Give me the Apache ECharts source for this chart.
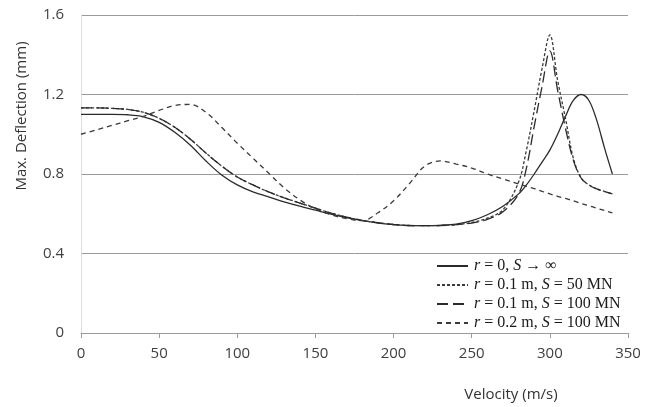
<!DOCTYPE html>
<html>
<head>
<meta charset="utf-8">
<script src="https://cdn.jsdelivr.net/npm/echarts@6/dist/echarts.min.js"></script>
<style>
  html, body { margin: 0; padding: 0; background: #fff; }
  #chart { width: 645px; height: 407px; }
</style>
</head>
<body>
<div id="chart"></div>
<script>
// velocity samples (m/s)
const velocity = [0, 10, 20, 30, 40, 50, 60, 70, 80, 90, 100, 110, 120, 130, 140, 150, 160, 170, 180, 190,
  200, 210, 220, 230, 240, 250, 260, 270, 280, 285, 290, 295, 300, 305, 310, 315, 320, 325, 330, 335, 340]

// max deflection (mm)
const rigid = [1.10, 1.10, 1.10, 1.098, 1.088, 1.06, 1.01, 0.945, 0.865, 0.795, 0.745, 0.71, 0.685, 0.66, 0.638, 0.618, 0.598, 0.58, 0.565, 0.553,
  0.545, 0.54, 0.54, 0.542, 0.548, 0.565, 0.595, 0.638, 0.70, 0.745, 0.80, 0.86, 0.92, 1.00, 1.09, 1.17, 1.20, 1.17, 1.07, 0.93, 0.80]
const r01s50 = [1.133, 1.133, 1.13, 1.125, 1.11, 1.08, 1.035, 0.975, 0.905, 0.84, 0.785, 0.745, 0.71, 0.68, 0.654, 0.628, 0.603, 0.583, 0.567, 0.555,
  0.546, 0.541, 0.54, 0.541, 0.545, 0.556, 0.578, 0.62, 0.76, 0.92, 1.12, 1.33, 1.50, 1.27, 1.08, 0.88, 0.78, 0.745, 0.725, 0.712, 0.70]
const r01s100 = [1.133, 1.133, 1.13, 1.125, 1.11, 1.08, 1.035, 0.975, 0.905, 0.84, 0.785, 0.745, 0.71, 0.68, 0.654, 0.628, 0.603, 0.583, 0.567, 0.555,
  0.546, 0.541, 0.54, 0.541, 0.545, 0.553, 0.572, 0.61, 0.70, 0.83, 1.04, 1.24, 1.42, 1.22, 1.03, 0.87, 0.78, 0.745, 0.725, 0.712, 0.70]
const r02s100 = [1.00, 1.022, 1.045, 1.068, 1.09, 1.12, 1.145, 1.15, 1.11, 1.035, 0.955, 0.88, 0.805, 0.73, 0.67, 0.625, 0.595, 0.575, 0.565, 0.605,
  0.665, 0.75, 0.84, 0.866, 0.85, 0.83, 0.80, 0.775, 0.75, 0.738, 0.727, 0.713, 0.70, 0.688, 0.677, 0.665, 0.652, 0.64, 0.628, 0.616, 0.604]

const xTicks = { min: 0, max: 350, interval: 50 }
const yTicks = { min: 0, max: 1.6, interval: 0.4 }

const legendRich = {
  '0': '{i|r} = 0, {i|S} → ∞',
  '1': '{i|r} = 0.1 m, {i|S} = 50 MN',
  '2': '{i|r} = 0.1 m, {i|S} = 100 MN',
  '3': '{i|r} = 0.2 m, {i|S} = 100 MN',
}

const pairs = (ys) => velocity.map((v, i) => [v, ys[i]])

const chart = echarts.init(document.getElementById('chart'))

const mkSeries = (name, ys, dash, color) => ({
  name: name,
  type: 'line',
  data: pairs(ys),
  smooth: 0.35,
  showSymbol: false,
  symbol: 'none',
  lineStyle: { color: color, width: 1.3, type: dash },
  itemStyle: { color: color },
})

chart.setOption({
  animation: false,
  backgroundColor: '#fff',
  grid: { left: 81, right: 17, top: 15, bottom: 74, containLabel: false },
  xAxis: {
    type: 'value',
    min: xTicks.min,
    max: xTicks.max,
    interval: xTicks.interval,
    axisLine: { show: true, lineStyle: { color: '#9a9a9a', width: 1 } },
    axisTick: { show: true, length: 5, lineStyle: { color: '#9a9a9a' } },
    axisLabel: { color: '#404040', fontSize: 15, fontFamily: 'Open Sans', margin: 13 },
    splitLine: { show: false },
  },
  yAxis: {
    type: 'value',
    min: yTicks.min,
    max: yTicks.max,
    interval: yTicks.interval,
    axisLine: { show: true, lineStyle: { color: '#dcdcdc', width: 1 } },
    axisTick: { show: false },
    axisLabel: { color: '#404040', fontSize: 15, fontFamily: 'Open Sans', margin: 17 },
    splitLine: { show: true, lineStyle: { color: '#9a9a9a', width: 1 } },
  },
  legend: {
    data: ['0', '1', '2', '3'],
    orient: 'vertical',
    left: 431,
    top: 253,
    itemWidth: 31,
    itemHeight: 14,
    itemGap: 3,
    itemStyle: { opacity: 0 },
    formatter: (name) => legendRich[name],
    textStyle: {
      fontFamily: 'Liberation Serif',
      fontSize: 16,
      color: '#1a1a1a',
      padding: [0, 0, 0, 1],
      rich: {
        i: { fontFamily: 'Liberation Serif', fontStyle: 'italic', fontSize: 16, color: '#1a1a1a' },
      },
    },
  },
  graphic: [
    {
      type: 'text',
      x: 22,
      y: 116,
      rotation: Math.PI / 2,
      style: {
        text: 'Max. Deflection (mm)',
        fontFamily: 'Open Sans',
        fontSize: 15,
        fill: '#333',
        textAlign: 'center',
        textVerticalAlign: 'middle',
      },
    },
    {
      type: 'text',
      x: 511,
      y: 395,
      style: {
        text: 'Velocity (m/s)',
        fontFamily: 'Open Sans',
        fontSize: 15,
        fill: '#333',
        textAlign: 'center',
        textVerticalAlign: 'middle',
      },
    },
  ],
  series: [
    mkSeries('0', rigid, 'solid', '#2b2b2b'),
    mkSeries('1', r01s50, [3, 2], '#3a3a3a'),
    mkSeries('2', r01s100, [11, 5], '#2b2b2b'),
    mkSeries('3', r02s100, [5, 4], '#3a3a3a'),
  ],
})
</script>
</body>
</html>
